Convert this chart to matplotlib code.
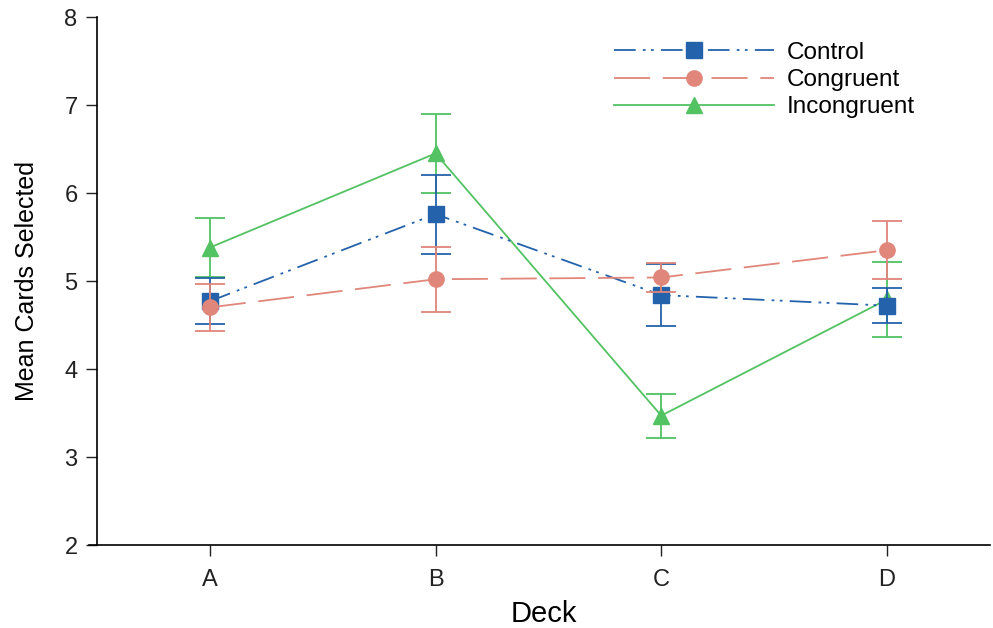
import matplotlib
matplotlib.use("Agg")
import matplotlib.pyplot as plt

plt.rcParams['font.family'] = ['Liberation Sans', 'DejaVu Sans']

decks = ["A", "B", "C", "D"]
groups = ["Control", "Congruent", "Incongruent"]

control_mean = [4.77, 5.76, 4.84, 4.72]
control_se = [0.26, 0.45, 0.35, 0.20]
congruent_mean = [4.70, 5.02, 5.04, 5.35]
congruent_se = [0.27, 0.37, 0.17, 0.33]
incongruent_mean = [5.38, 6.45, 3.47, 4.79]
incongruent_se = [0.34, 0.45, 0.25, 0.43]

colors = {"Control": "#2462ab", "Congruent": "#e0867a", "Incongruent": "#52c262"}
markers = {"Control": "s", "Congruent": "o", "Incongruent": "^"}
styles = {"Control": (0, (12, 4, 1.5, 3, 1.5, 4)),
          "Congruent": (0, (20, 7)),
          "Incongruent": "-"}
series = {"Control": (control_mean, control_se),
          "Congruent": (congruent_mean, congruent_se),
          "Incongruent": (incongruent_mean, incongruent_se)}
zorders = {"Incongruent": 3, "Control": 4, "Congruent": 5}

fig = plt.figure(figsize=(9.93, 6.28), dpi=100)
ax = fig.add_axes([97 / 993, 83 / 628, (990 - 97) / 993, (545 - 17) / 628])

x = list(range(1, len(decks) + 1))
handles = {}
for g in ["Incongruent", "Control", "Congruent"]:
    m, se = series[g]
    c = colors[g]
    ax.errorbar(x, m, yerr=se, fmt="none", ecolor=c, elinewidth=1.3,
                capsize=11, capthick=1.3, zorder=zorders[g])
    ln, = ax.plot(x, m, color=c, linestyle=styles[g], linewidth=1.3,
                  marker=markers[g], markersize=11 if g != "Incongruent" else 12,
                  markeredgecolor=c, markerfacecolor=c, zorder=zorders[g] + 0.5)
    handles[g] = ln

ax.set_xlim(0.5, 0.5 + (990 - 97) / 225.7)
ax.set_ylim(2, 8)
ax.set_xticks(x)
ax.set_xticklabels(decks)
ax.set_yticks(range(2, 9))

for s in ("top", "right"):
    ax.spines[s].set_visible(False)
ax.spines["left"].set_linewidth(1.2)
ax.spines["bottom"].set_linewidth(1.2)
ax.spines["bottom"].set_bounds(0.5 - 8 / 225.7, ax.get_xlim()[1])
ax.tick_params(axis="both", direction="out", length=8, width=1.0,
               labelsize=17, colors="#222222", pad=6)
ax.tick_params(axis="x", pad=9)

ax.set_xlabel("Deck", fontsize=21, labelpad=7)
ax.set_ylabel("Mean Cards Selected", fontsize=18, labelpad=18)

ax.legend([handles[g] for g in groups], groups, loc="upper left",
          bbox_to_anchor=((604 - 97) / (990 - 97), 1 - (32 - 17) / (545 - 17)),
          frameon=False, fontsize=17.5, handlelength=6.6, numpoints=1,
          labelspacing=0.22, handletextpad=0.5, borderaxespad=0)

fig.savefig("out.png", dpi=100)
